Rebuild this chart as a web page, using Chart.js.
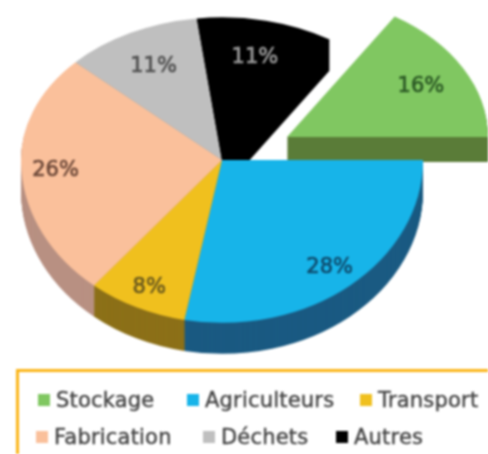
<!DOCTYPE html>
<html lang="fr">
<head>
<meta charset="utf-8">
<script src="https://cdn.jsdelivr.net/npm/chart.js@4"></script>
<style>
html,body{margin:0;padding:0;background:#fff;overflow:hidden}
#wrap{position:relative;width:488px;height:454px;overflow:hidden;filter:blur(1px)}
canvas{position:absolute;left:0;top:0}
#box{position:absolute;left:16px;top:369px;width:500px;height:120px;border:3px solid #fbb416;box-sizing:border-box}
.it{position:absolute;display:flex;align-items:center;gap:6px;font:21px "DejaVu Sans",sans-serif;letter-spacing:.2px;color:#444;-webkit-text-stroke:.4px #444;white-space:nowrap;line-height:24px}
.it i{width:12px;height:12px;display:block}
</style>
</head>
<body>
<div id="wrap">
<canvas id="c" width="488" height="454"></canvas>
<div id="box"></div>
</div>
<script>
const categories = ['Stockage','Agriculteurs','Transport','Fabrication','Déchets','Autres'];
const shares = [16,28,8,26,11,11];
const tickLabels = ['16%','28%','8%','26%','11%','11%'];
const topColors = ['#80c761','#17b4e9','#f0c01e','#fac09b','#bfbfbf','#000000'];
const sideColors = ['#5a7c38','#1a5a82','#8c7018','#b89082','#8f8f8f','#000000'];
const labelColors = ['#2c5a25','#0f4c6e','#6b5a1e','#6e4a3a','#505050','#9a9a9a'];
const labelRadius = [.76,.84,.85,.83,.75,.75];

// Geometry of the tilted pie
const cx=222, cy=160, radius=201, sqUp=.71, sqDown=.81;
const explode=[{x:65,y:-23},null,null,null,null,null];
const depth=[25,31,31,31,31,31];
const legendLeft=[38,187,360,36,203,336];
const legendTop=[388,388,388,425,425,425];

function halves(ctx,dx,dy,ax,ay,paint){
  [[sqUp,-1],[sqDown,1]].forEach(([sq,dir])=>{
    ctx.save();
    ctx.beginPath();
    ctx.rect(-10,dir<0?cy+dy-500:cy+dy,600,500);
    ctx.clip();
    ctx.translate(cx+dx,cy+dy);
    ctx.scale(1,sq);
    ctx.translate(-ax,-ay);
    paint();
    ctx.restore();
  });
}
function paintSlice(ctx,arc,i,color,offY){
  const e=explode[i]||{x:0,y:0};
  const saved=arc.options;
  arc.options=Object.assign({},saved,{backgroundColor:color,borderWidth:0});
  halves(ctx,e.x,e.y+offY,arc.x,arc.y,()=>arc.draw(ctx));
  arc.options=saved;
}
const pie3d={
  id:'pie3d',
  beforeDatasetsDraw(chart){
    const ctx=chart.ctx, arcs=chart.getDatasetMeta(0).data;
    // exploded slice first, so the main pie lies over its slab
    for(let k=depth[0];k>=1;k--) paintSlice(ctx,arcs[0],0,sideColors[0],k);
    paintSlice(ctx,arcs[0],0,topColors[0],0);
    for(let k=depth[1];k>=1;k--) for(let i=1;i<arcs.length;i++) paintSlice(ctx,arcs[i],i,sideColors[i],k);
    for(let i=1;i<arcs.length;i++) paintSlice(ctx,arcs[i],i,topColors[i],0);
    ctx.save();
    ctx.font='21px "DejaVu Sans", sans-serif';
    ctx.textAlign='center';ctx.textBaseline='middle';ctx.lineWidth=.7;
    arcs.forEach((arc,i)=>{
      const e=explode[i]||{x:0,y:0};
      const mid=(arc.startAngle+arc.endAngle)/2;
      const r=radius*labelRadius[i];
      const s=Math.sin(mid);
      const x=cx+e.x+Math.cos(mid)*r, y=cy+e.y+s*r*(s<0?sqUp:sqDown)+2;
      ctx.fillStyle=ctx.strokeStyle=labelColors[i];
      ctx.fillText(tickLabels[i],x,y);
      ctx.strokeText(tickLabels[i],x,y);
    });
    ctx.restore();
    return false;
  }
};
new Chart(document.getElementById('c'),{
  type:'pie',
  data:{labels:categories,datasets:[{data:shares,backgroundColor:topColors,borderWidth:0}]},
  options:{
    responsive:false,animation:false,radius:radius,rotation:32.4,
    plugins:{legend:{display:false},tooltip:{enabled:false}}
  },
  plugins:[pie3d]
});
categories.forEach((n,i)=>{
  const d=document.createElement('div');d.className='it';
  d.style.left=legendLeft[i]+'px';d.style.top=legendTop[i]+'px';
  const m=document.createElement('i');m.style.background=topColors[i];
  const t=document.createElement('span');t.textContent=n;
  d.append(m,t);document.getElementById('wrap').append(d);
});
</script>
</body>
</html>
